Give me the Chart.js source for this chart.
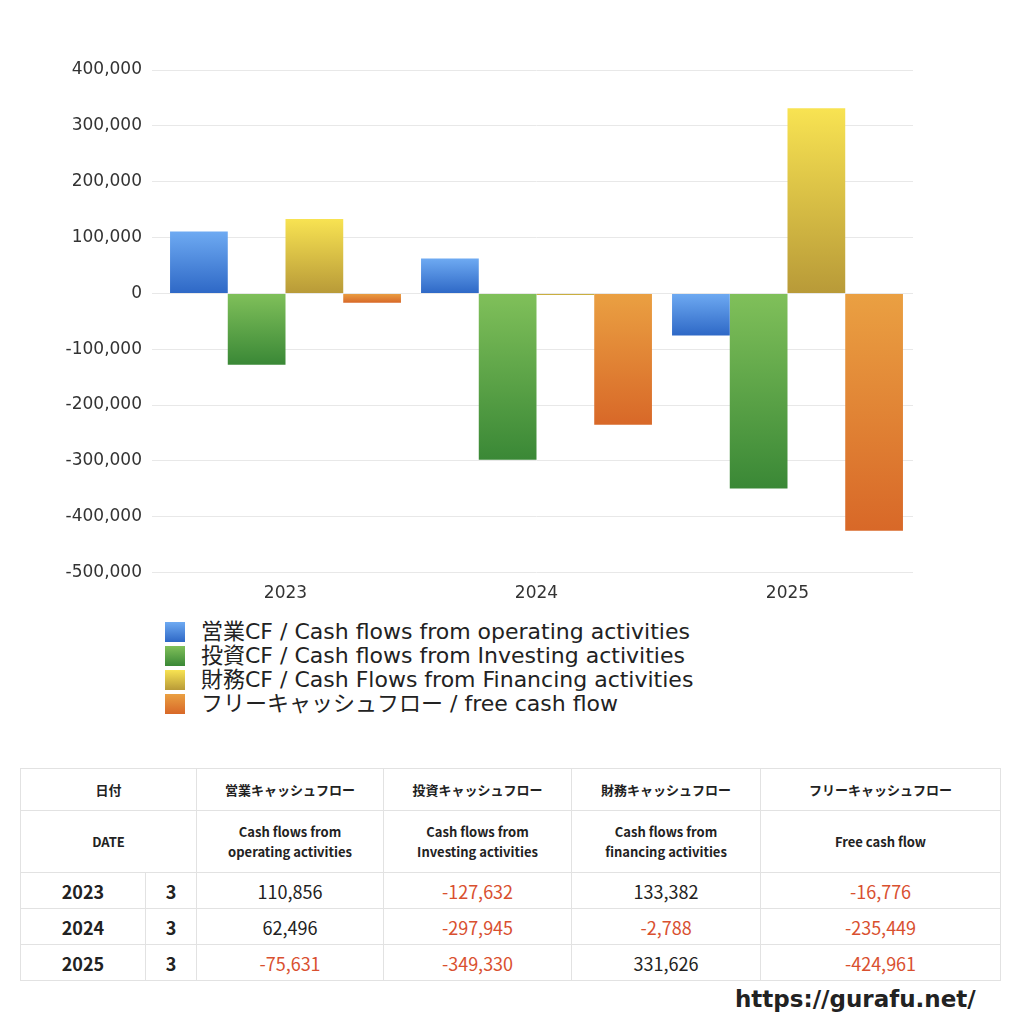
<!DOCTYPE html>
<html lang="ja">
<head>
<meta charset="UTF-8">
<title>Cash flow</title>
<script src="https://cdn.jsdelivr.net/npm/chart.js"></script>
<style>
  body { margin: 0; width: 1024px; height: 1024px; background: #fff; position: relative; overflow: hidden;
         font-family: "Noto Sans CJK JP", "Noto Sans", sans-serif; color: #222; }
  #wrap { position: absolute; left: 0; top: 0; width: 1024px; height: 612px; }
  #legend { position: absolute; left: 165px; top: 620px; font-size: 22px; line-height: 24px;
            font-family: "DejaVu Sans", "Noto Sans CJK JP", sans-serif; }
  #legend div { display: flex; align-items: center; height: 24px; }
  #legend span.box { width: 20px; height: 20px; margin-right: 16px; display: inline-block; }
  table { position: absolute; left: 20px; top: 768px; width: 980px; border-collapse: collapse; table-layout: fixed; }
  td, th { border: 1px solid #e2e2e2; text-align: center; padding: 0; }
  th { font-size: 13px; font-weight: bold; }
  td { font-size: 18px; height: 35px; }
  td.y, td.m { font-weight: bold; }
  .neg { color: #d9502f; }
  #url { position: absolute; left: 735px; top: 986px; font-size: 23px; font-weight: bold; font-family: "DejaVu Sans", sans-serif; }
</style>
</head>
<body>
<div id="wrap"><canvas id="c"></canvas></div>
<div id="legend"></div>
<table id="tbl"></table>
<div id="url">https://gurafu.net/</div>
<script>
const years = ['2023', '2024', '2025'];
const months = ['3', '3', '3'];
const seriesNames = [
  '営業CF / Cash flows from operating activities',
  '投資CF / Cash flows from Investing activities',
  '財務CF / Cash Flows from Financing activities',
  'フリーキャッシュフロー / free cash flow'
];
const operating = [110856, 62496, -75631];
const investing = [-127632, -297945, -349330];
const financing = [133382, -2788, 331626];
const freeCF = [-16776, -235449, -424961];
const headJa = ['営業キャッシュフロー', '投資キャッシュフロー', '財務キャッシュフロー', 'フリーキャッシュフロー'];
const headEn = ['Cash flows from<br>operating activities', 'Cash flows from<br>Investing activities', 'Cash flows from<br>financing activities', 'Free cash flow'];

const colors = [['#6eaaf2', '#2e68c6'], ['#80c05a', '#3a8836'], ['#f8e352', '#b89a38'], ['#eaa042', '#d86828']];
const allSeries = [operating, investing, financing, freeCF];

function grad(i) {
  return function (ctx) {
    const chart = ctx.chart;
    const ys = chart.scales && chart.scales.y;
    if (!ys || ctx.dataIndex === undefined) return colors[i][1];
    const v = ctx.raw;
    const a = ys.getPixelForValue(Math.max(v, 0));
    const b = ys.getPixelForValue(Math.min(v, 0));
    if (!isFinite(a) || !isFinite(b) || a === b) return colors[i][1];
    const g = chart.ctx.createLinearGradient(0, a, 0, b);
    g.addColorStop(0, colors[i][0]);
    g.addColorStop(1, colors[i][1]);
    return g;
  };
}

new Chart(document.getElementById('c'), {
  type: 'bar',
  data: {
    labels: years,
    datasets: allSeries.map((d, i) => ({ label: seriesNames[i], data: d, backgroundColor: grad(i), borderWidth: 0 }))
  },
  options: {
    responsive: true, maintainAspectRatio: false, animation: false,
    layout: { padding: { top: 70, right: 111, bottom: 5, left: 0 } },
    categoryPercentage: 0.92, barPercentage: 1,
    plugins: { legend: { display: false }, tooltip: { enabled: false } },
    scales: {
      x: { grid: { display: false }, border: { display: false },
           ticks: { color: '#333', font: { size: 17, family: 'DejaVu Sans' } } },
      y: { min: -500000, max: 400000, border: { display: false },
           grid: { color: '#e8e8e8' },
           afterFit: s => { s.width = 160; },
           ticks: { stepSize: 100000, color: '#333', padding: 10, font: { size: 17, family: 'DejaVu Sans' },
                    callback: v => v.toLocaleString('en-US') } }
    }
  }
});

const lg = document.getElementById('legend');
seriesNames.forEach((n, i) => {
  const d = document.createElement('div');
  d.innerHTML = '<span class="box" style="background:linear-gradient(' + colors[i][0] + ',' + colors[i][1] + ')"></span>' + n;
  lg.appendChild(d);
});

const fmt = v => v.toLocaleString('en-US');
const colW = [125, 51, 187, 188, 189, 240];
let html = '<colgroup>' + colW.map(w => '<col style="width:' + w + 'px">').join('') + '</colgroup>';
html += '<tr style="height:42px"><th colspan="2">日付</th>' + headJa.map(h => '<th>' + h + '</th>').join('') + '</tr>';
html += '<tr style="height:62px"><th colspan="2">DATE</th>' + headEn.map(h => '<th style="line-height:20px">' + h + '</th>').join('') + '</tr>';
years.forEach((y, r) => {
  html += '<tr><td class="y">' + y + '</td><td class="m">' + months[r] + '</td>' +
    allSeries.map(s => '<td class="' + (s[r] < 0 ? 'neg' : '') + '">' + fmt(s[r]) + '</td>').join('') + '</tr>';
});
document.getElementById('tbl').innerHTML = html;
</script>
</body>
</html>
